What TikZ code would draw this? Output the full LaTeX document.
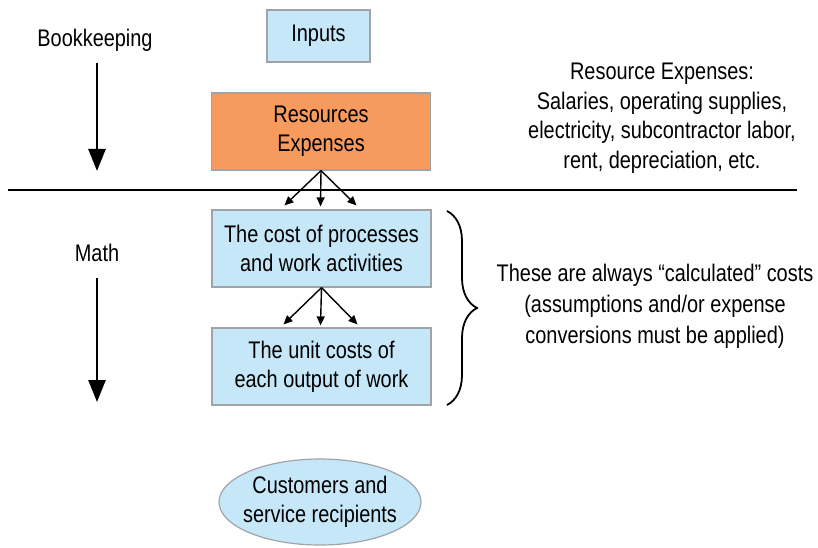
\documentclass[tikz,border=0pt]{standalone}
\usepackage{fontspec}
\setmainfont{Liberation Sans}[FakeStretch=0.83]
\usetikzlibrary{arrows.meta,decorations.pathreplacing,shapes.geometric}
\definecolor{lblue}{HTML}{C6E7F8}
\definecolor{orng}{HTML}{F79A5E}
\definecolor{bord}{HTML}{A0A4A8}
\tikzset{
  box/.style={draw=bord,line width=1.2pt,fill=lblue,align=center,inner sep=0pt,font=\fontsize{24}{29}\selectfont},
  lbl/.style={align=center,inner sep=0pt,font=\fontsize{24}{29.5}\selectfont},
  small/.style={line width=1.4pt,-{Triangle[length=9pt,width=8pt]}},
  big/.style={line width=2.6pt,-{Triangle[length=22pt,width=17pt]}}
}
\begin{document}
\begin{tikzpicture}[x=1pt,y=-1pt]
\useasboundingbox (0,0) rectangle (818,548);
\node[box,minimum width=103pt,minimum height=52pt] (inp) at (318.5,36) {Inputs};
\node[box,fill=orng,minimum width=219pt,minimum height=77pt] (res) at (321,131.5) {Resources\\Expenses};
\node[box,minimum width=219pt,minimum height=77pt] (b1) at (321.5,248.5) {The cost of processes\\and work activities};
\node[box,minimum width=219pt,minimum height=77pt] (b2) at (321.5,366.5) {The unit costs of\\each output of work};
\node[box,ellipse,minimum width=202pt,minimum height=86pt] (cust) at (320,502) {};
\node[lbl,font=\fontsize{24}{29}\selectfont] (custt) at (cust) {Customers and\\service recipients};
\node[lbl] (bk) at (95,40) {Bookkeeping};
\node[lbl] (math) at (97,253) {Math};
\node[lbl] (rex) at (662,118) {Resource Expenses:\\Salaries, operating supplies,\\electricity, subcontractor labor,\\rent, depreciation, etc.};
\node[lbl,font=\fontsize{24}{31}\selectfont] (calc) at (655,306) {These are always “calculated” costs\\(assumptions and/or expense\\conversions must be applied)};
\coordinate (l1) at (8,190);
\coordinate (l2) at (797,190);
\draw[line width=2.4pt] (l1) -- (l2);
\coordinate (a1s) at (97,63);
\coordinate (a1e) at (97,171);
\coordinate (a2s) at (97,278);
\coordinate (a2e) at (97,402);
\draw[big] (a1s) -- (a1e);
\draw[big] (a2s) -- (a2e);
\draw[small] (res.south) -- ([xshift=-37pt,yshift=4pt]b1.north);
\draw[small] (res.south) -- ([xshift=-1pt,yshift=3pt]b1.north);
\draw[small] (res.south) -- ([xshift=35pt,yshift=4pt]b1.north);
\draw[small] (b1.south) -- ([xshift=-38pt,yshift=3pt]b2.north);
\draw[small] (b1.south) -- ([xshift=-1pt,yshift=2pt]b2.north);
\draw[small] (b1.south) -- ([xshift=36pt,yshift=3pt]b2.north);
\coordinate (br1) at (447,211);
\coordinate (br2) at (447,405);
\draw[line width=1.8pt,decorate,decoration={brace,amplitude=30pt}] (br1) -- (br2);
\end{tikzpicture}
\end{document}
